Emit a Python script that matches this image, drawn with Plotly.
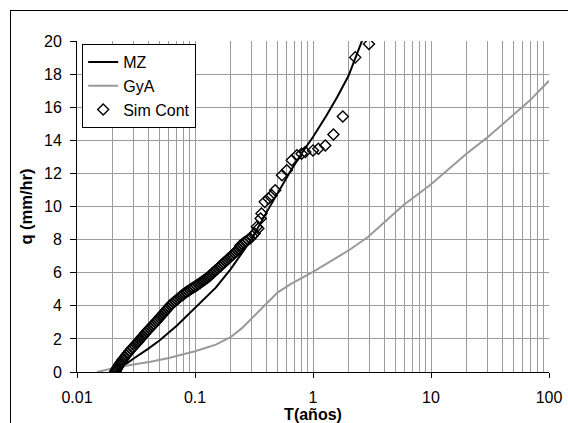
import plotly.graph_objects as go

# ---- data ----
mz_T = [0.021, 0.025, 0.03, 0.04, 0.05, 0.07, 0.1, 0.15, 0.2, 0.3, 0.4, 0.5, 0.64,
        0.8, 1.0, 1.3, 1.6, 2.0, 2.4, 2.8]
mz_q = [0.0, 0.4, 0.8, 1.4, 1.9, 2.8, 3.9, 5.1, 6.2, 8.0, 9.6, 10.8, 12.1,
        13.2, 14.2, 15.5, 16.6, 17.9, 19.3, 20.6]

gya_T = [0.0148, 0.02, 0.03, 0.042, 0.06, 0.1, 0.15, 0.2, 0.25, 0.3, 0.4, 0.5, 0.64, 1.0, 2.06,
         2.94, 5.82, 9.78, 20.0, 29.5, 68.7, 100.0]
gya_q = [0.0, 0.22, 0.45, 0.62, 0.85, 1.25, 1.65, 2.1, 2.65, 3.2, 4.1, 4.8, 5.3, 6.05, 7.4,
         8.17, 10.08, 11.28, 13.19, 14.13, 16.4, 17.6]

sim_T = [0.0210, 0.0212, 0.0214, 0.0217, 0.0220, 0.0223, 0.0226, 0.0230, 0.0234, 0.0238,
         0.0243, 0.0248, 0.0255, 0.0262, 0.0270, 0.0278, 0.0287, 0.0296,
         0.0306, 0.0315, 0.0324, 0.0333, 0.0342, 0.0352, 0.0362, 0.0372, 0.0382, 0.0392, 0.0402,
         0.0414, 0.0426, 0.0438, 0.0450, 0.0462, 0.0474, 0.0487, 0.0500,
         0.0514, 0.0528, 0.0543, 0.0558, 0.0573, 0.0589, 0.0605, 0.0621,
         0.0640, 0.0660, 0.0680, 0.0701, 0.0723, 0.0746, 0.0770, 0.0795,
         0.0820, 0.0846, 0.0873, 0.0900, 0.0930, 0.0962, 0.0995,
         0.1030, 0.1066, 0.1103, 0.1142, 0.1182, 0.1223, 0.1266, 0.1310,
         0.1350, 0.1390, 0.1432, 0.1475, 0.1520, 0.1566, 0.1613,
         0.1660, 0.1710, 0.1760, 0.1812, 0.1866, 0.1921, 0.1978, 0.2036,
         0.2096, 0.2158, 0.2222, 0.2288, 0.2355,
         0.2410, 0.2500, 0.2580, 0.2670, 0.2800, 0.2930, 0.3050, 0.3200, 0.3340, 0.3440,
         0.3600, 0.3660, 0.3900, 0.4200, 0.4470, 0.4780, 0.5460, 0.6000, 0.6600, 0.7300,
         0.8000, 0.8600, 1.0000, 1.1100, 1.2700, 1.4900, 1.7900, 2.2800, 2.9800]
sim_q = [0.00, 0.05, 0.12, 0.18, 0.25, 0.32, 0.40, 0.48, 0.56, 0.64,
         0.72, 0.80, 0.92, 1.03, 1.15, 1.26, 1.37, 1.47,
         1.58, 1.68, 1.78, 1.88, 1.98, 2.08, 2.18, 2.28, 2.37, 2.46, 2.55,
         2.64, 2.73, 2.82, 2.91, 3.00, 3.09, 3.18, 3.28,
         3.38, 3.48, 3.57, 3.67, 3.76, 3.86, 3.95, 4.05,
         4.13, 4.21, 4.29, 4.37, 4.45, 4.53, 4.61, 4.69,
         4.76, 4.83, 4.90, 4.96, 5.03, 5.09, 5.15,
         5.22, 5.30, 5.37, 5.45, 5.53, 5.61, 5.68, 5.76,
         5.85, 5.93, 6.02, 6.10, 6.18, 6.27, 6.36,
         6.44, 6.52, 6.60, 6.68, 6.77, 6.85, 6.93, 7.02,
         7.10, 7.19, 7.27, 7.36, 7.45,
         7.62, 7.70, 7.80, 7.87, 7.97, 8.07, 8.20, 8.37, 8.77, 8.67,
         9.27, 9.58, 10.28, 10.48, 10.68, 10.98, 11.89, 12.19, 12.79, 13.09,
         13.19, 13.29, 13.39, 13.49, 13.69, 14.35, 15.44, 19.01, 19.82]

x_ticks = [0.01, 0.1, 1, 10, 100]
x_ticktext = ["0.01", "0.1", "1", "10", "100"]
y_ticks = [0, 2, 4, 6, 8, 10, 12, 14, 16, 18, 20]

FONT = "Arial, 'Liberation Sans', sans-serif"
GRID = "#9c9c9c"

fig = go.Figure()
fig.add_trace(go.Scatter(x=mz_T, y=mz_q, mode="lines", name="MZ",
                         line=dict(color="black", width=2)))
fig.add_trace(go.Scatter(x=gya_T, y=gya_q, mode="lines", name="GyA",
                         line=dict(color="#999999", width=2)))
fig.add_trace(go.Scatter(x=sim_T, y=sim_q, mode="markers", name="Sim Cont",
                         marker=dict(symbol="diamond-open", size=8.5,
                                     color="black", line=dict(width=1.4, color="black"))))

fig.update_layout(
    width=568, height=423,
    margin=dict(l=77, r=19, t=41, b=51, autoexpand=False),
    paper_bgcolor="white", plot_bgcolor="white",
    font=dict(family=FONT, size=16, color="black"),
    showlegend=True,
    legend=dict(x=0.011, y=0.991, xanchor="left", yanchor="top",
                bgcolor="white", bordercolor="black", borderwidth=1,
                font=dict(family=FONT, size=16, color="black"),
                tracegroupgap=0),
    xaxis=dict(type="log", range=[-2, 2], automargin=False,
               tickvals=x_ticks, ticktext=x_ticktext,
               showgrid=True, gridcolor=GRID, gridwidth=1,
               minor=dict(dtick="D1", showgrid=True, gridcolor=GRID, gridwidth=1, ticks=""),
               showline=True, linecolor="black", linewidth=1,
               ticks="outside", ticklen=5, tickcolor="black",
               ticklabelstandoff=6,
               zeroline=False,
               title=dict(text="<b>T(años)</b>", font=dict(size=16), standoff=0)),
    yaxis=dict(range=[0, 20], automargin=True, tickvals=y_ticks,
               showgrid=True, gridcolor=GRID, gridwidth=1,
               showline=True, linecolor="black", linewidth=1,
               ticks="outside", ticklen=6, tickcolor="black",
               ticklabelstandoff=5,
               zeroline=False,
               title=dict(text="<b>q (mm/hr)</b>", font=dict(size=16.5), standoff=7)),
)

frame_js = (
    "document.body.style.margin='0';document.body.style.overflow='hidden';"
    "var fr=document.createElement('div');"
    "fr.style.cssText='position:absolute;left:10px;top:10px;width:620px;height:500px;"
    "border-left:1.5px solid #000;border-top:1.5px solid #000;pointer-events:none;z-index:10;';"
    "document.body.appendChild(fr);"
)

fig.write_html("out.html", config={"displayModeBar": False}, post_script=frame_js)
